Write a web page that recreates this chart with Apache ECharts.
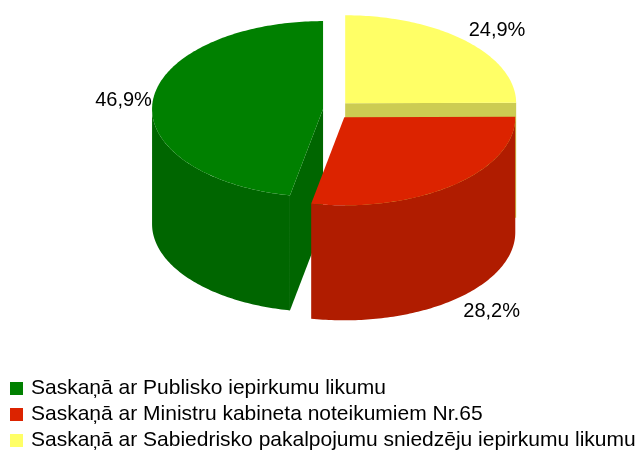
<!DOCTYPE html>
<html>
<head>
<meta charset="utf-8">
<script src="https://cdn.jsdelivr.net/npm/echarts@6/dist/echarts.min.js"></script>
<style>
  html, body { margin: 0; padding: 0; background: #fff; }
  #chart { width: 642px; height: 451px; }
</style>
</head>
<body>
<div id="chart"></div>
<script>
// slices go counter-clockwise from 12 o'clock, in this order
const names = [
  'Saskaņā ar Publisko iepirkumu likumu',
  'Saskaņā ar Ministru kabineta noteikumiem Nr.65',
  'Saskaņā ar Sabiedrisko pakalpojumu sniedzēju iepirkumu likumu'
]
const values = [46.9, 28.2, 24.9]
const topColors = ['#008000', '#dc2300', '#ffff66']
const sideColors = ['#006600', '#b01c00', '#cccc52']

// fake 3d pie geometry (plain echarts has no 3d pie)
const geo = { cx: 336, cy: 110, rx: 171, ry: 88, h: 115, ex: 13, ey: 9.5 }

const total = values.reduce((a, b) => a + b, 0)
const slices = []
let cum = 0
values.forEach((v, i) => {
  const s = cum / total * Math.PI * 2
  cum += v
  const e = cum / total * Math.PI * 2
  // convert to clockwise angles from top
  const a1 = Math.PI * 2 - e
  const a2 = Math.PI * 2 - s
  const mid = (a1 + a2) / 2
  slices.push({ a1, a2, mid })
})
// paint back slices first
const order = slices.map((s, i) => i).sort((a, b) => -Math.cos(slices[a].mid) + Math.cos(slices[b].mid))
const zOf = {}
order.forEach((idx, rank) => { zOf[idx] = 2 + rank })

function fmt(v) {
  return v.toFixed(1).replace('.', ',') + '%'
}

function makeRender(i) {
  return function (params, api) {
    const sl = slices[i]
    const v = api.value(0)
    const cx = geo.cx + geo.ex * Math.sin(sl.mid)
    const cy = geo.cy - geo.ey * Math.cos(sl.mid)
    const pt = (phi, dz) => [cx + geo.rx * Math.sin(phi), cy - geo.ry * Math.cos(phi) + (dz || 0)]
    const arc = (from, to, dz) => {
      const pts = []
      const n = Math.max(2, Math.ceil(Math.abs(to - from) / (Math.PI / 180)))
      for (let k = 0; k <= n; k++) pts.push(pt(from + (to - from) * k / n, dz))
      return pts
    }
    const children = []
    // cut faces that look at the viewer
    if (Math.sin(sl.a1) < -1e-6) {
      children.push({ type: 'polygon', shape: { points: [[cx, cy], pt(sl.a1), pt(sl.a1, geo.h), [cx, cy + geo.h]] }, style: { fill: sideColors[i] } })
    }
    if (Math.sin(sl.a2) > 1e-6) {
      children.push({ type: 'polygon', shape: { points: [[cx, cy], pt(sl.a2), pt(sl.a2, geo.h), [cx, cy + geo.h]] }, style: { fill: sideColors[i] } })
    }
    // outer wall, front half only
    const ws = Math.max(sl.a1, Math.PI / 2)
    const we = Math.min(sl.a2, Math.PI * 1.5)
    if (we > ws) {
      const pts = arc(ws, we, 0).concat(arc(we, ws, geo.h))
      children.push({ type: 'polygon', shape: { points: pts }, style: { fill: sideColors[i] } })
    }
    // top face
    children.push({ type: 'polygon', shape: { points: [[cx, cy]].concat(arc(sl.a1, sl.a2, 0)) }, style: { fill: topColors[i] } })

    // label, outside the rim
    const sm = Math.sin(sl.mid), cm = Math.cos(sl.mid)
    let lx = cx + geo.rx * sm + (sm > 0 ? 3 : -1)
    let ly = cy - geo.ry * cm
    let va = 'middle'
    if (cm > 0.3) va = 'bottom'
    else if (cm < -0.3) { va = 'top'; ly += geo.h + 1; lx += 7 * Math.sign(sm) }
    children.push({
      type: 'text',
      style: {
        x: lx, y: ly, text: fmt(v), fill: '#000',
        fontSize: 20, fontFamily: '"Liberation Sans", Arial, sans-serif',
        align: sm > 0 ? 'left' : 'right', verticalAlign: va
      }
    })
    return { type: 'group', children: children }
  }
}

const chart = echarts.init(document.getElementById('chart'))
chart.setOption({
  animation: false,
  backgroundColor: '#fff',
  legend: {
    data: names,
    orient: 'vertical',
    left: 10,
    top: 378,
    height: 73,
    padding: 0,
    icon: 'rect',
    itemWidth: 13,
    itemHeight: 13,
    itemGap: 5,
    selectedMode: false,
    textStyle: { fontSize: 21, fontFamily: '"Liberation Sans", Arial, sans-serif', color: '#000', padding: [0, 0, 0, 3] }
  },
  series: names.map((n, i) => ({
    name: n,
    type: 'custom',
    coordinateSystem: 'none',
    z: zOf[i],
    silent: true,
    itemStyle: { color: topColors[i] },
    renderItem: makeRender(i),
    data: [[values[i]]]
  }))
})
</script>
</body>
</html>
